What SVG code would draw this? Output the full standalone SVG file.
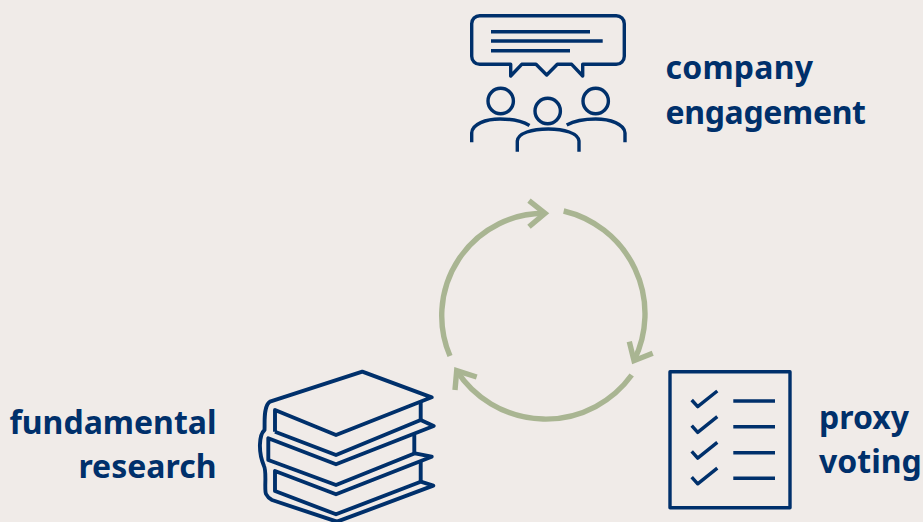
<svg xmlns="http://www.w3.org/2000/svg" width="923" height="522" viewBox="0 0 923 522">
<style>
.i{fill:none;stroke:#00306b;stroke-width:3.4;stroke-linejoin:round}
.b{fill:none;stroke:#00306b;stroke-width:3.9;stroke-linejoin:round}
.a{fill:none;stroke:#a9b592;stroke-width:5.4}
text{font-family:"Noto Sans","Open Sans",sans-serif;font-weight:700;font-size:32px;fill:#00306b}
</style>
<rect width="923" height="522" fill="#f0ebe8"/>
<g id="connectors">
<path class="a" d="M563.7 211A105.6 105.6 0 0 1 634 360.7"/>
<path class="a" d="M629.3 341.7L634 360.7L652.7 353.3"/>
<path class="a" d="M631.7 375A106 106 0 0 1 456.7 370.7"/>
<path class="a" d="M476.7 377L456.7 370.7L455 390"/>
<path class="a" d="M450 356A102.400 102.400 0 0 1 545 213.3"/>
<path class="a" d="M529 200.7L545 213.3L529 226.7"/>
</g>
<g id="company-engagement">
<path class="i" d="M480 15.7H616.3A8 8 0 0 1 624.3 23.7V56.3A8 8 0 0 1 616.3 64.3H582.7V76L571.7 64.3H557.3L546.7 75L536 64.3H521.7L510.7 76V64.3H479.7A8 8 0 0 1 471.7 56.3V23.7A8 8 0 0 1 479.7 15.7Z"/>
<path class="i" d="M491 31.7H590M491 41H602.7M491 50.7H570"/>
<circle class="i" cx="500.7" cy="101" r="12.7"/>
<circle class="i" cx="595.7" cy="101" r="12.7"/>
<circle class="i" cx="547.7" cy="111" r="12.7"/>
<path class="i" d="M471.7 142.3V133C472 124 486 119 500 119C510 119 522 121 529.5 125.5"/>
<path class="i" d="M566.7 125C574 121 585 119 595.7 119C610 119 624.5 124 625 133V142.3"/>
<path class="i" d="M517.3 151.7V141C518 133 532 129 548.3 129C564 129 578 133 579 141V151.7"/>
<text x="665.500" y="79" textLength="147.500">company</text>
<text x="665.500" y="124" textLength="200.500">engagement</text>
</g>
<g id="fundamental-research">
<path class="b" d="M275 431.7V410L336 435L431.7 397.3L362.3 371.7L270 401.7C263 406 265 424 264.500 430C259 435 258 452 264 466C267 472 264 490 266 494C268 498 270 499 272 500L337 521.700"/>
<path class="b" d="M275 431.700L336 455L420.700 420L433.700 426L336 464.300L268.300 438.300V460L336 485L415 453.300L431.700 456.700L336 494.300L275 471V491L336 514.300L420.700 481.700L433.300 485.700L337 521.700"/>
<path class="b" d="M420.700 402V420M414.300 435V453.300M420.700 460V481.700"/>
<text x="216.500" y="434" text-anchor="end">fundamental</text>
<text x="216.500" y="478" text-anchor="end">research</text>
</g>
<g id="proxy-voting">
<rect class="i" x="670" y="371.700" width="120" height="136"/>
<path class="i" d="M691.700 400L697.700 406.700L717.300 391M691.700 425.700L697.700 432.400L717.300 416.700M691.700 451.400L697.700 458.100L717.300 442.400M691.700 477.100L697.700 483.800L717.300 468.100M733.300 401H775M733.300 426.700H775M733.300 452.700H775M733.300 478.300H775"/>
<text x="819" y="429">proxy</text>
<text x="819" y="473">voting</text>
</g>
</svg>
